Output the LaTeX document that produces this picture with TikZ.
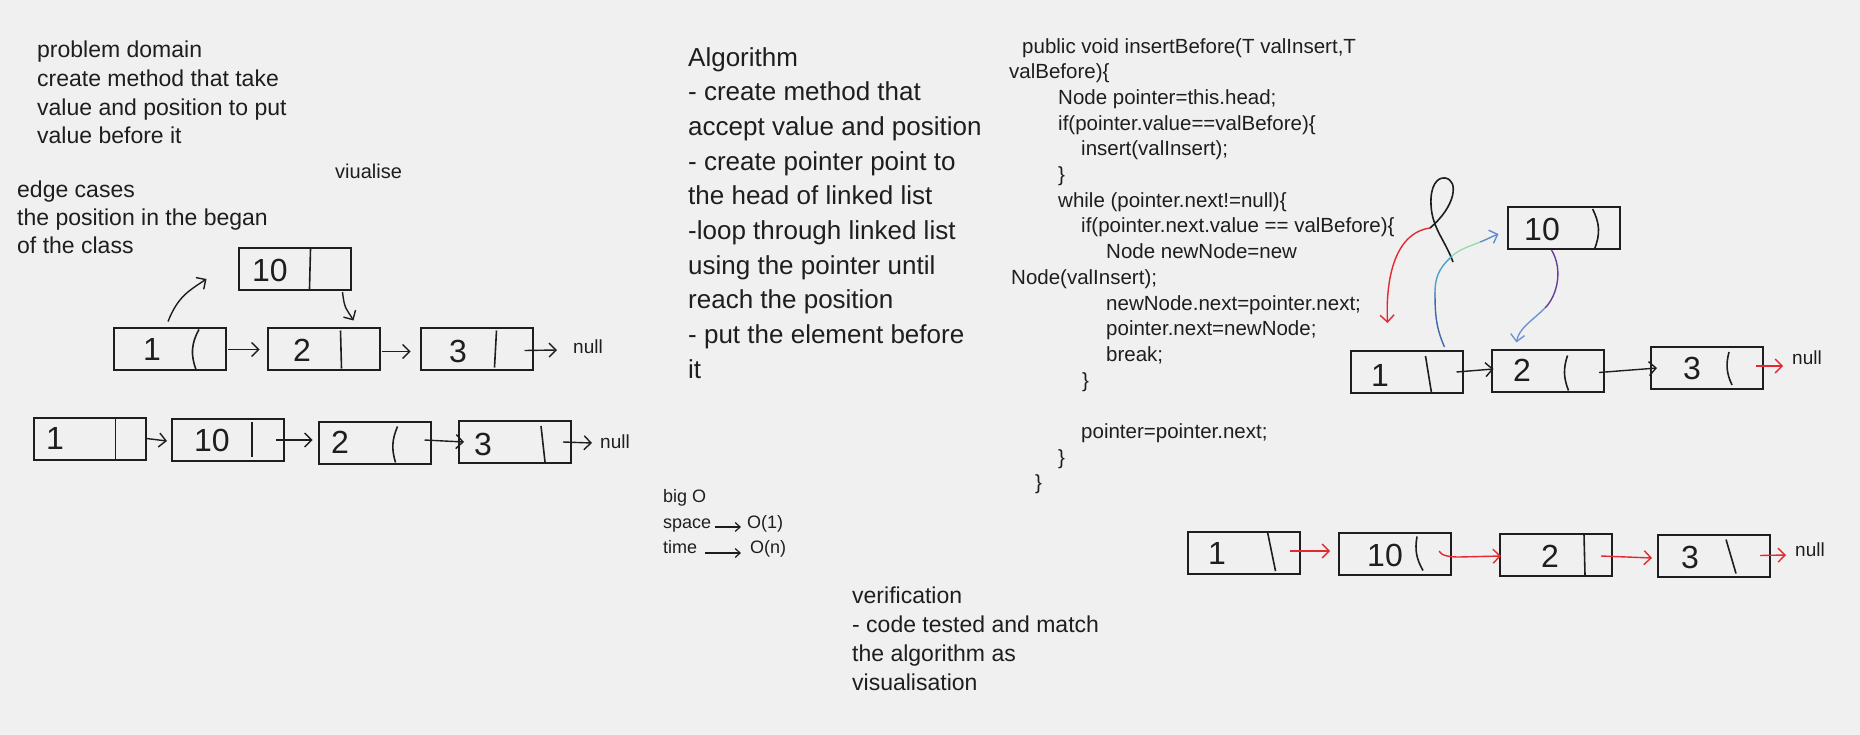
\documentclass[tikz,border=0pt]{standalone}
\usepackage{fontspec}
\setmainfont{Liberation Sans}
\usetikzlibrary{arrows.meta}
\definecolor{bg}{RGB}{240,240,240}
\definecolor{ink}{RGB}{30,30,30}
\definecolor{exred}{RGB}{228,40,50}
\definecolor{gblue}{RGB}{60,105,175}
\definecolor{gteal}{RGB}{80,160,200}
\definecolor{ggreen}{RGB}{150,220,170}
\definecolor{gtip}{RGB}{95,140,205}
\definecolor{pviolet}{RGB}{105,60,150}
\definecolor{pblue}{RGB}{110,150,210}

\begin{document}
\begin{tikzpicture}[x=1pt,y=-1pt,
    cell/.style={draw=ink, line width=2pt, minimum width=112pt, minimum height=42pt, inner sep=0pt},
    val/.style={font=\fontsize{32}{32}\selectfont, text=ink, inner sep=0pt},
    divider/.style={draw=ink, line width=1.6pt},
    arr/.style={-{Straight Barb[length=7pt,width=14pt]}, line width=1.4pt, draw=ink},
    redarr/.style={arr, draw=exred},
    smallarr/.style={-{Straight Barb[length=5pt,width=9pt]}, line width=1.2pt, draw=ink},
    note/.style={align=left, anchor=north west, inner sep=0pt, text=ink},
    word/.style={anchor=base west, inner sep=0pt, text=ink},
    nullnode/.style={font=\fontsize{19}{19}\selectfont, anchor=west, inner sep=0pt, text=ink}]

    \fill[bg] (0,0) rectangle (1860,735);
    \useasboundingbox (0,0) rectangle (1860,735);

    % Notes
    \node[note, font=\fontsize{23}{28.7}\selectfont] (domain) at (37,41)
        {problem domain\\create method that take\\value and position to put\\value before it};
    \node[word, font=\fontsize{20}{20}\selectfont] (vis) at (335,179) {viualise};
    \node[note, font=\fontsize{23}{28}\selectfont] (edge) at (17,181)
        {edge cases\\the position in the began\\of the class};
    \node[note, font=\fontsize{26}{34.7}\selectfont] (algo) at (688,47)
        {Algorithm\\- create method that\\accept value and position\\- create pointer point to\\the head of linked list\\-loop through linked list\\using the pointer until\\reach the position\\- put the element before\\it};
    \node[note, font=\fontsize{23}{29}\selectfont] (verif) at (852,587)
        {verification\\- code tested and match\\the algorithm as\\visualisation};

    % Code
    \node[note, font=\fontsize{20.5}{25.7}\selectfont] (code) at (1009,38)
        {\hspace*{13pt}public void insertBefore(T valInsert,T\\
         valBefore)\{\\
         \hspace*{49pt}Node pointer=this.head;\\
         \hspace*{49pt}if(pointer.value==valBefore)\{\\
         \hspace*{72pt}insert(valInsert);\\
         \hspace*{49pt}\}\\
         \hspace*{49pt}while (pointer.next!=null)\{\\
         \hspace*{72pt}if(pointer.next.value == valBefore)\{\\
         \hspace*{97pt}Node newNode=new\\
         \hspace*{2pt}Node(valInsert);\\
         \hspace*{97pt}newNode.next=pointer.next;\\
         \hspace*{97pt}pointer.next=newNode;\\
         \hspace*{97pt}break;\\
         \hspace*{73pt}\}\\
         \mbox{}\\
         \hspace*{72pt}pointer=pointer.next;\\
         \hspace*{49pt}\}\\
         \hspace*{26pt}\}};

    % Big O
    \node[word, font=\fontsize{18}{18}\selectfont] (bigo) at (663,502) {big O};
    \node[word, font=\fontsize{18}{18}\selectfont] (space) at (663,528) {space};
    \node[word, font=\fontsize{18}{18}\selectfont] (o1) at (747,528) {O(1)};
    \node[word, font=\fontsize{18}{18}\selectfont] (time) at (663,553) {time};
    \node[word, font=\fontsize{18}{18}\selectfont] (on) at (750,553) {O(n)};
    \draw[smallarr] ([xshift=4pt,yshift=1pt]space.base east) -- ([xshift=-6pt,yshift=1pt]o1.base west);
    \draw[smallarr] ([xshift=8pt]time.base east) -- ([xshift=-9pt]on.base west);

    % Left: insert 10 before 2
    \node[cell] (lt10) at (294.5,269) {};
    \node[val] (lt10v) at (270,270) {10};
    \draw[divider] ([xshift=73pt,yshift=-2pt]lt10.north west) -- ([xshift=72pt,yshift=2pt]lt10.south west);

    \node[cell] (la1) at (170,348.5) {};
    \node[val] (la1v) at (152,349) {1};
    \draw[divider] ([xshift=86pt,yshift=-3pt]la1.north west) to[bend right=25] ([xshift=83pt,yshift=1pt]la1.south west);
    \node[cell] (la2) at (323.5,348.5) {};
    \node[val] (la2v) at (302,350) {2};
    \draw[divider] ([xshift=74pt,yshift=-4pt]la2.north west) -- ([xshift=75pt,yshift=2pt]la2.south west);
    \node[cell] (la3) at (476.5,348.5) {};
    \node[val] (la3v) at (458,351) {3};
    \draw[divider] ([xshift=77pt,yshift=-4pt]la3.north west) -- ([xshift=75pt,yshift=3pt]la3.south west);
    \node[nullnode] (lanull) at (573,347) {null};

    \draw[arr] ([xshift=1pt,yshift=-1pt]la1.east) -- ([xshift=-7pt,yshift=-1pt]la2.west);
    \draw[arr] ([xshift=1pt,yshift=-3pt]la2.east) -- ([xshift=-9pt,yshift=-3pt]la3.west);
    \draw[arr] ([xshift=-9pt,yshift=-2pt]la3.east) -- ([xshift=-16pt,yshift=-3pt]lanull.west);
    \draw[arr] ([xshift=-2pt,yshift=5pt]la1.north) .. controls +(10,-25) and +(-18,12) .. ([xshift=-31pt,yshift=-10pt]lt10.west);
    \draw[arr] ([xshift=-9pt,yshift=-1pt]lt10.south east) .. controls +(2,18) and +(-7,-12) .. ([xshift=-27pt,yshift=6pt]la2.north east);

    \node[cell] (lb1) at (89.5,438.5) {};
    \node[val] (lb1v) at (55,438) {1};
    \draw[divider] ([xshift=83pt,yshift=-1pt]lb1.north west) -- ([xshift=83pt,yshift=1pt]lb1.south west);
    \node[cell] (lb10) at (228,440) {};
    \node[val] (lb10v) at (212,440) {10};
    \draw[divider] ([xshift=81pt,yshift=-4pt]lb10.north west) -- ([xshift=81pt,yshift=5pt]lb10.south west);
    \node[cell] (lb2) at (374.5,442.5) {};
    \node[val] (lb2v) at (340,442) {2};
    \draw[divider] ([xshift=80pt,yshift=-6pt]lb2.north west) to[bend right=20] ([xshift=78pt,yshift=2pt]lb2.south west);
    \node[cell] (lb3) at (515,442) {};
    \node[val] (lb3v) at (483,444) {3};
    \draw[divider] ([xshift=83pt,yshift=-6pt]lb3.north west) -- ([xshift=87pt,yshift=2pt]lb3.south west);
    \node[nullnode] (lbnull) at (600,442) {null};

    \draw[arr] (lb1.east) -- ([xshift=-4pt,yshift=-1pt]lb10.west);
    \draw[arr] ([xshift=-9pt]lb10.east) -- ([xshift=-5pt,yshift=2.5pt]lb2.west);
    \draw[arr] ([xshift=-7pt,yshift=2.5pt]lb2.east) -- ([xshift=6pt]lb3.west);
    \draw[arr] ([xshift=-9pt]lb3.east) -- ([xshift=-8pt,yshift=-1pt]lbnull.west);

    % Right: the steps
    \node[cell] (rt10) at (1563.5,228) {};
    \node[val] (rt10v) at (1542,229) {10};
    \draw[divider] ([xshift=86pt,yshift=-3pt]rt10.north west) to[bend left=25] ([xshift=88pt,yshift=1pt]rt10.south west);

    \node[cell] (ra1) at (1406.5,372) {};
    \node[val] (ra1v) at (1380,375) {1};
    \draw[divider] ([xshift=76pt,yshift=-6pt]ra1.north west) -- ([xshift=82pt,yshift=1pt]ra1.south west);
    \node[cell] (ra2) at (1547.5,370.5) {};
    \node[val] (ra2v) at (1522,370) {2};
    \draw[divider] ([xshift=77pt,yshift=-7pt]ra2.north west) to[bend right=20] ([xshift=78pt,yshift=2pt]ra2.south west);
    \node[cell] (ra3) at (1707,368) {};
    \node[val] (ra3v) at (1692,368) {3};
    \draw[divider] ([xshift=79pt,yshift=-6pt]ra3.north west) to[bend right=20] ([xshift=82pt,yshift=5pt]ra3.south west);
    \node[nullnode] (ranull) at (1792,358) {null};

    \draw[arr] ([xshift=-7pt]ra1.east) -- ([xshift=3pt,yshift=1.5pt]ra2.west);
    \draw[arr] ([xshift=-5.5pt,yshift=-2pt]ra2.east) -- ([xshift=7pt]ra3.west);
    \draw[redarr] ([xshift=-8pt,yshift=2pt]ra3.east) -- ([xshift=-9pt,yshift=-8pt]ranull.west);

    % Loop and moved pointers
    \coordinate (loopend) at (1430,228);
    \draw[ink, line width=1.6pt] (1453,262) .. controls (1445,240) and (1432,228) .. (1431,205)
        .. controls (1430,186) and (1437,177) .. (1445,178)
        .. controls (1459,180) and (1456,206) .. (loopend);
    \draw[redarr] (loopend) .. controls +(-35,5) and +(-2,-45) .. ([xshift=38pt,yshift=27pt]ra1.north west);

    \coordinate (g1) at (1435,292);
    \coordinate (g2) at (1452,256);
    \coordinate (g3) at (1480,242);
    \draw[gblue, line width=1.4pt] ([xshift=-19pt,yshift=3pt]ra1.north east) .. controls +(-9,-20) and +(0,20) .. (g1);
    \draw[gteal, line width=1.4pt] (g1) .. controls +(0,-20) and +(-8,8) .. (g2);
    \draw[ggreen, line width=1.4pt] (g2) .. controls +(8,-7) and +(-12,5) .. (g3);
    \draw[arr, draw=gtip] (g3) .. controls +(8,-3) and +(-8,3) .. ([xshift=-8pt,yshift=-6pt]rt10.west);

    \coordinate (p1) at (1545,308);
    \draw[pviolet, line width=1.4pt] ([xshift=45pt]rt10.south west) .. controls +(12,20) and +(12,-12) .. (p1);
    \draw[arr, draw=pblue] (p1) .. controls +(-12,12) and +(2,-14) .. ([xshift=26pt,yshift=6pt]ra2.north west);

    % Right: after insert
    \node[cell] (rb1) at (1243.5,553) {};
    \node[val] (rb1v) at (1217,553) {1};
    \draw[divider] ([xshift=81pt,yshift=-1pt]rb1.north west) -- ([xshift=89pt,yshift=4pt]rb1.south west);
    \node[cell] (rb10) at (1395,553.5) {};
    \node[val] (rb10v) at (1385,555) {10};
    \draw[divider] ([xshift=79pt,yshift=-5pt]rb10.north west) to[bend right=20] ([xshift=85pt,yshift=5pt]rb10.south west);
    \node[cell] (rb2) at (1556,554.5) {};
    \node[val] (rb2v) at (1550,556) {2};
    \draw[divider] ([xshift=85pt,yshift=-2pt]rb2.north west) -- ([xshift=86pt,yshift=1pt]rb2.south west);
    \node[cell] (rb3) at (1714,555.5) {};
    \node[val] (rb3v) at (1690,557) {3};
    \draw[divider] ([xshift=69pt,yshift=-6pt]rb3.north west) -- ([xshift=79pt,yshift=4pt]rb3.south west);
    \node[nullnode] (rbnull) at (1795,550) {null};

    \draw[redarr] ([xshift=-11pt,yshift=2pt]rb1.east) -- ([xshift=-8pt,yshift=2.5pt]rb10.west);
    \draw[redarr] ([xshift=-13pt,yshift=2.5pt]rb10.east) .. controls +(2,5) and +(-8,0) .. ++(20,6) -- ([xshift=2pt,yshift=-1.5pt]rb2.west);
    \draw[redarr] ([xshift=-12pt,yshift=-1.5pt]rb2.east) -- ([xshift=-5pt,yshift=-2.5pt]rb3.west);
    \draw[redarr] ([xshift=-11pt]rb3.east) -- ([xshift=-9pt,yshift=-5pt]rbnull.west);
\end{tikzpicture}
\end{document}
